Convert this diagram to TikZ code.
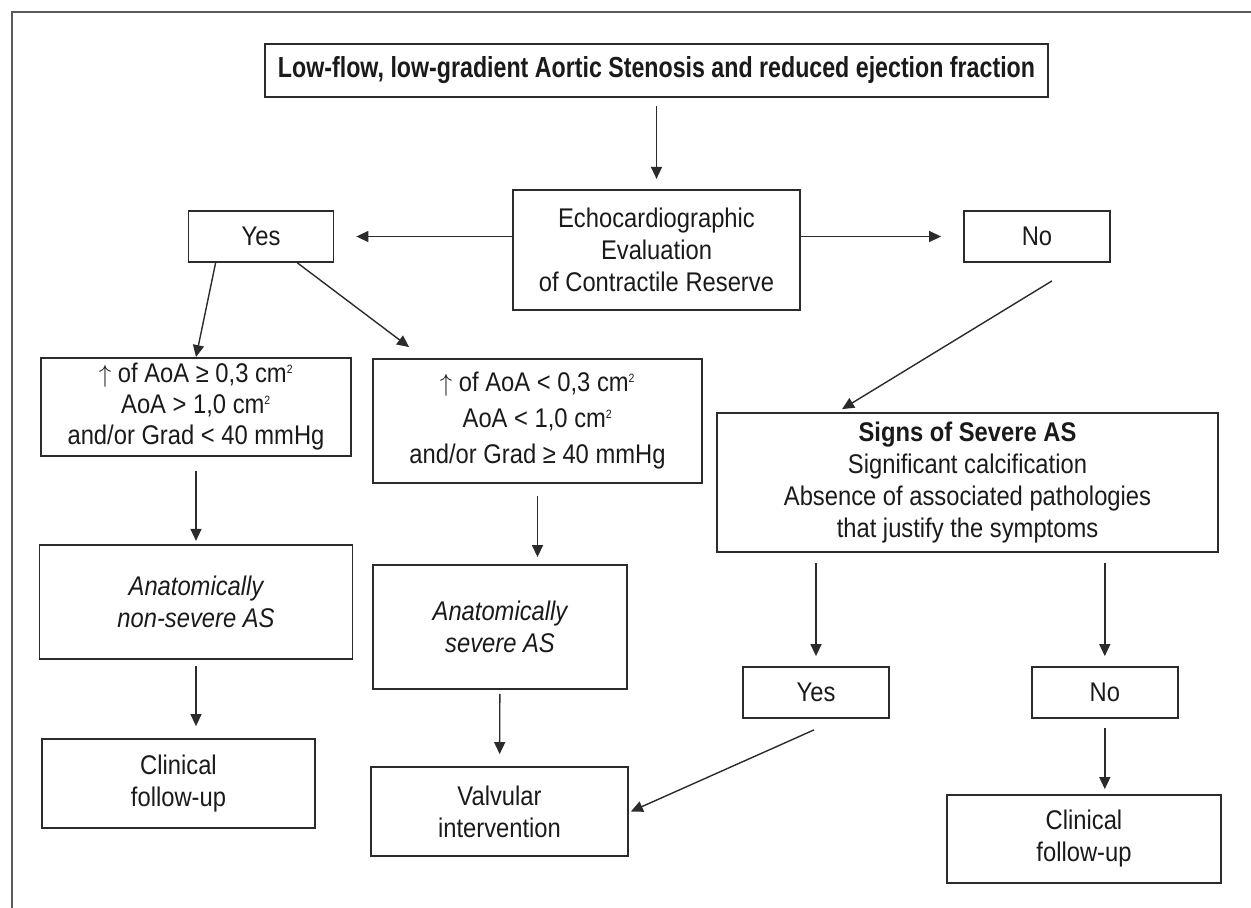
\documentclass[tikz,border=0pt]{standalone}
\usepackage{fontspec}
\setmainfont{Liberation Sans}[FakeStretch=0.88]
\newfontfamily\titlefont{Liberation Sans}[FakeStretch=0.8]
\usetikzlibrary{arrows.meta, positioning, calc}
\definecolor{lineA}{HTML}{2B2B2B}
\definecolor{textA}{HTML}{1A1A1A}
\definecolor{frameA}{HTML}{5A5A5A}
\newcommand{\cmsq}{\textsuperscript{\fontsize{12pt}{12pt}\selectfont 2}}
\tikzset{
  flowbox/.style={
    draw=lineA, line width=1.8pt, align=center, inner sep=0pt,
    text=textA, font=\fontsize{27pt}{32pt}\selectfont
  },
  titlebox/.style={
    flowbox, font=\titlefont\bfseries\fontsize{29pt}{34pt}\selectfont
  },
  arrow/.style={-{Triangle[length=12pt,width=11pt]}, line width=1.4pt, draw=lineA},
  gap/.style 2 args={shorten <=#1, shorten >=#2}
}

\begin{document}
\begin{tikzpicture}[x=1pt, y=1pt]
  \useasboundingbox (0,0) rectangle (1251,-908);
  \draw[frameA, line width=1.5pt] (12,-908) -- (12,-12) -- (1251,-12);

  \node[titlebox, minimum width=783pt, minimum height=53pt] (title) at (656.5,-70.5)
    {Low-flow, low-gradient Aortic Stenosis and reduced ejection fraction};
  \node[flowbox, below=91pt of title, minimum width=287pt, minimum height=120pt] (echo)
    {Echocardiographic\\Evaluation\\of Contractile Reserve};
  \node[flowbox, minimum width=145pt, minimum height=51pt] (yes) at (261,-236.5) {Yes};
  \node[flowbox, minimum width=146pt, minimum height=51pt] (no) at (1037,-236.5) {No};

  \node[flowbox, minimum width=310pt, minimum height=98pt,
        font=\fontsize{27pt}{31pt}\selectfont] (incr) at (196,-407)
    {$\uparrow$ of AoA ≥ 0,3 cm\cmsq\\AoA > 1,0 cm\cmsq\\and/or Grad < 40 mmHg};
  \node[flowbox, minimum width=329pt, minimum height=124pt,
        font=\fontsize{27pt}{36pt}\selectfont] (noincr) at (537.5,-421)
    {$\uparrow$ of AoA < 0,3 cm\cmsq\\AoA < 1,0 cm\cmsq\\and/or Grad ≥ 40 mmHg};
  \node[flowbox, minimum width=501pt, minimum height=139pt] (signs) at (967.5,-482.5)
    {\textbf{Signs of Severe AS}\\Significant calcification\\Absence of associated pathologies\\that justify the symptoms};

  \node[flowbox, below=87pt of incr, minimum width=313pt, minimum height=114pt] (nonsev)
    {\itshape Anatomically\\\itshape non-severe AS};
  \node[flowbox, minimum width=254pt, minimum height=124pt] (sev) at (500,-627)
    {\itshape Anatomically\\\itshape severe AS};
  \node[flowbox, minimum width=146pt, minimum height=51pt] (yesb) at (816,-692.5) {Yes};
  \node[flowbox, right=141pt of yesb, minimum width=146pt, minimum height=51pt] (nob) {No};

  \node[flowbox, minimum width=273pt, minimum height=89pt] (followa) at (178.5,-783.5)
    {Clinical\\follow-up};
  \node[flowbox, minimum width=257pt, minimum height=89pt] (valve) at (499.5,-811.5)
    {Valvular\\intervention};
  \node[flowbox, minimum width=274pt, minimum height=88pt] (followb) at (1084,-839)
    {Clinical\\follow-up};

  \draw[arrow, gap={8pt}{10pt}] (title) -- (echo);
  \draw[arrow, gap={0pt}{22pt}] (yes.east -| echo.west) -- (yes.east);
  \draw[arrow, gap={0pt}{22pt}] (no.west -| echo.east) -- (no.west);
  \draw[arrow] ([xshift=28pt]yes.south west) -- (incr.north);
  \draw[arrow] ([xshift=-37pt]yes.south east) -- ([shift={(37pt,11pt)}]noincr.north west);
  \draw[arrow] ([shift={(15pt,-18pt)}]no.south) -- ([shift={(126pt,3pt)}]signs.north west);
  \draw[arrow, gap={14pt}{3pt}] (incr) -- (nonsev);
  \draw[arrow, gap={12pt}{7pt}] (noincr.south) -- (noincr.south |- sev.north);
  \draw[arrow, gap={10pt}{10pt}] (yesb.north |- signs.south) -- (yesb.north);
  \draw[arrow, gap={10pt}{10pt}] (nob.north |- signs.south) -- (nob.north);
  \draw[arrow, gap={6pt}{12pt}] (nonsev.south) -- (nonsev.south |- followa.north);
  \draw[arrow, gap={4pt}{12pt}] (sev) -- (valve);
  \draw[arrow] ([shift={(-2pt,-11pt)}]yesb.south) -- ([xshift=2pt]valve.east);
  \draw[arrow, gap={9pt}{5pt}] (nob.south) -- (nob.south |- followb.north);
\end{tikzpicture}
\end{document}
